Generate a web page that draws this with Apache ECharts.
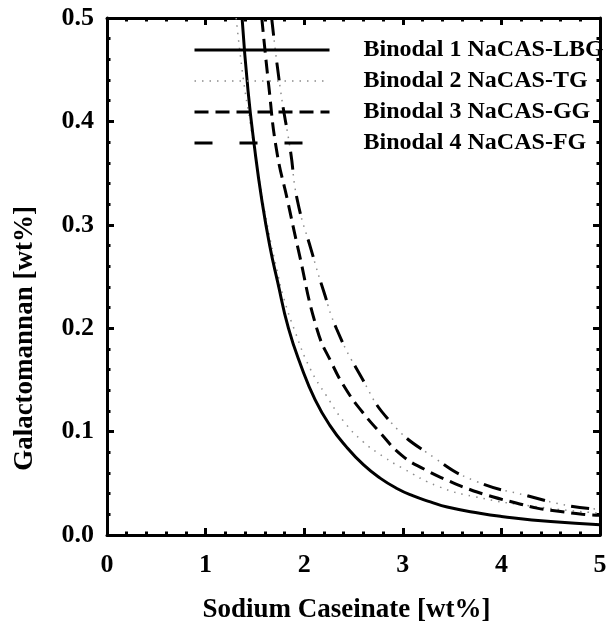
<!DOCTYPE html>
<html>
<head>
<meta charset="utf-8">
<script src="https://cdn.jsdelivr.net/npm/echarts@6/dist/echarts.min.js"></script>
<style>
  html, body { margin: 0; padding: 0; background: #fff; }
  #chart { width: 609px; height: 634px; }
</style>
</head>
<body>
<div id="chart"></div>
<script>
// values
const lbgX = [1.37, 1.43, 1.50, 1.57, 1.65, 1.73, 1.84, 1.97, 2.11, 2.26, 2.43, 2.60, 2.77, 2.94, 3.10, 3.28, 3.45, 3.78, 4.00, 4.50, 5.00];
const lbgY = [0.500, 0.430, 0.372, 0.324, 0.280, 0.245, 0.200, 0.163, 0.131, 0.106, 0.085, 0.068, 0.055, 0.045, 0.038, 0.032, 0.027, 0.021, 0.018, 0.013, 0.010];

const tgX = [1.31, 1.38, 1.45, 1.55, 1.64, 1.72, 1.79, 1.91, 2.06, 2.23, 2.40, 2.60, 2.80, 2.99, 3.36, 3.73, 4.30, 5.00];
const tgY = [0.500, 0.443, 0.400, 0.340, 0.293, 0.258, 0.230, 0.196, 0.161, 0.134, 0.110, 0.090, 0.076, 0.065, 0.047, 0.037, 0.028, 0.021];

const ggX = [1.57, 1.64, 1.72, 1.83, 1.94, 2.13, 2.28, 2.43, 2.59, 2.77, 2.99, 3.23, 3.45, 3.68, 3.91, 4.15, 4.36, 4.58, 4.82, 5.00];
const ggY = [0.500, 0.435, 0.372, 0.324, 0.276, 0.199, 0.166, 0.140, 0.119, 0.099, 0.077, 0.063, 0.053, 0.044, 0.037, 0.031, 0.026, 0.023, 0.020, 0.019];

const fgX = [1.67, 1.76, 1.86, 1.93, 2.07, 2.20, 2.33, 2.56, 2.87, 3.33, 3.74, 4.26, 4.70, 5.00];
const fgY = [0.500, 0.430, 0.372, 0.324, 0.276, 0.235, 0.199, 0.156, 0.110, 0.074, 0.052, 0.038, 0.028, 0.025];

const seriesNames = ["Binodal 1 NaCAS-LBG", "Binodal 2 NaCAS-TG", "Binodal 3 NaCAS-GG", "Binodal 4 NaCAS-FG"];

const pairs = (xs, ys) => xs.map((x, i) => [x, ys[i]]);

const font = "'Liberation Serif', 'Times New Roman', serif";
const black = "#000";
const grey = "#8c8c8c";

function frameAxis(pos, isX, showLabel) {
  return {
    type: "value",
    position: pos,
    min: 0,
    max: isX ? 5 : 0.5,
    interval: isX ? 1 : 0.1,
    axisLine: { show: true, onZero: false, lineStyle: { color: black, width: 3 } },
    axisTick: { show: true, inside: true, length: 7, lineStyle: { color: black, width: 3 } },
    minorTick: { show: true, splitNumber: 5, length: 3.5, lineStyle: { color: black, width: 3 } },
    splitLine: { show: false },
    minorSplitLine: { show: false },
    axisLabel: {
      show: showLabel,
      color: black,
      fontFamily: font,
      fontWeight: "bold",
      fontSize: 26,
      margin: isX ? 17 : 13,
      formatter: isX ? (v) => String(v) : (v) => v.toFixed(1),
    },
  };
}

const xBottom = frameAxis("bottom", true, true);
xBottom.name = "Sodium Caseinate [wt%]";
xBottom.nameLocation = "middle";
xBottom.nameGap = 62;
xBottom.nameTextStyle = { color: black, fontFamily: font, fontWeight: "bold", fontSize: 27, padding: [0, 14, 0, 0] };

const yLeft = frameAxis("left", false, true);
yLeft.name = "Galactomannan [wt%]";
yLeft.nameLocation = "middle";
yLeft.nameRotate = 90;
yLeft.nameGap = 68;
yLeft.nameTextStyle = { color: black, fontFamily: font, fontWeight: "bold", fontSize: 27, padding: [0, 124, 0, 0] };

function curve(name, xs, ys, color, width, type, z) {
  return {
    name: name,
    type: "line",
    data: pairs(xs, ys),
    smooth: 0.5,
    symbol: "none",
    lineStyle: { color: color, width: width, type: type },
    itemStyle: { color: color },
    z: z,
  };
}

const option = {
  animation: false,
  backgroundColor: "#fff",
  grid: { left: 107, right: 9, top: 18, bottom: 99, containLabel: false, outerBoundsMode: "none" },
  legend: {
    data: [
      { name: seriesNames[0], lineStyle: { width: 3 } },
      { name: seriesNames[1], lineStyle: { width: 1.5 } },
      { name: seriesNames[2], lineStyle: { width: 3 } },
      { name: seriesNames[3], lineStyle: { width: 3 } },
    ],
    orient: "vertical",
    left: 193,
    top: 38,
    padding: 0,
    itemWidth: 135,
    itemHeight: 12,
    itemGap: 7,
    selectedMode: false,
    itemStyle: { opacity: 0 },
    textStyle: { color: black, fontFamily: font, fontWeight: "bold", fontSize: 24, lineHeight: 24, padding: [0, 0, 0, 29] },
  },
  xAxis: [xBottom, frameAxis("top", true, false)],
  yAxis: [yLeft, frameAxis("right", false, false)],
  series: [
    curve(seriesNames[0], lbgX, lbgY, black, 3, "solid", 3),
    curve(seriesNames[1], tgX, tgY, grey, 1.5, [1.5, 6], 2),
    curve(seriesNames[2], ggX, ggY, black, 3, [14, 7], 3),
    curve("fg-dots", fgX, fgY, grey, 1.5, [1.5, 6], 2),
    curve(seriesNames[3], fgX, fgY, black, 3, [18, 27], 3),
  ],
};

const myChart = echarts.init(document.getElementById("chart"), null, { renderer: "canvas" });
myChart.setOption(option);
</script>
</body>
</html>
